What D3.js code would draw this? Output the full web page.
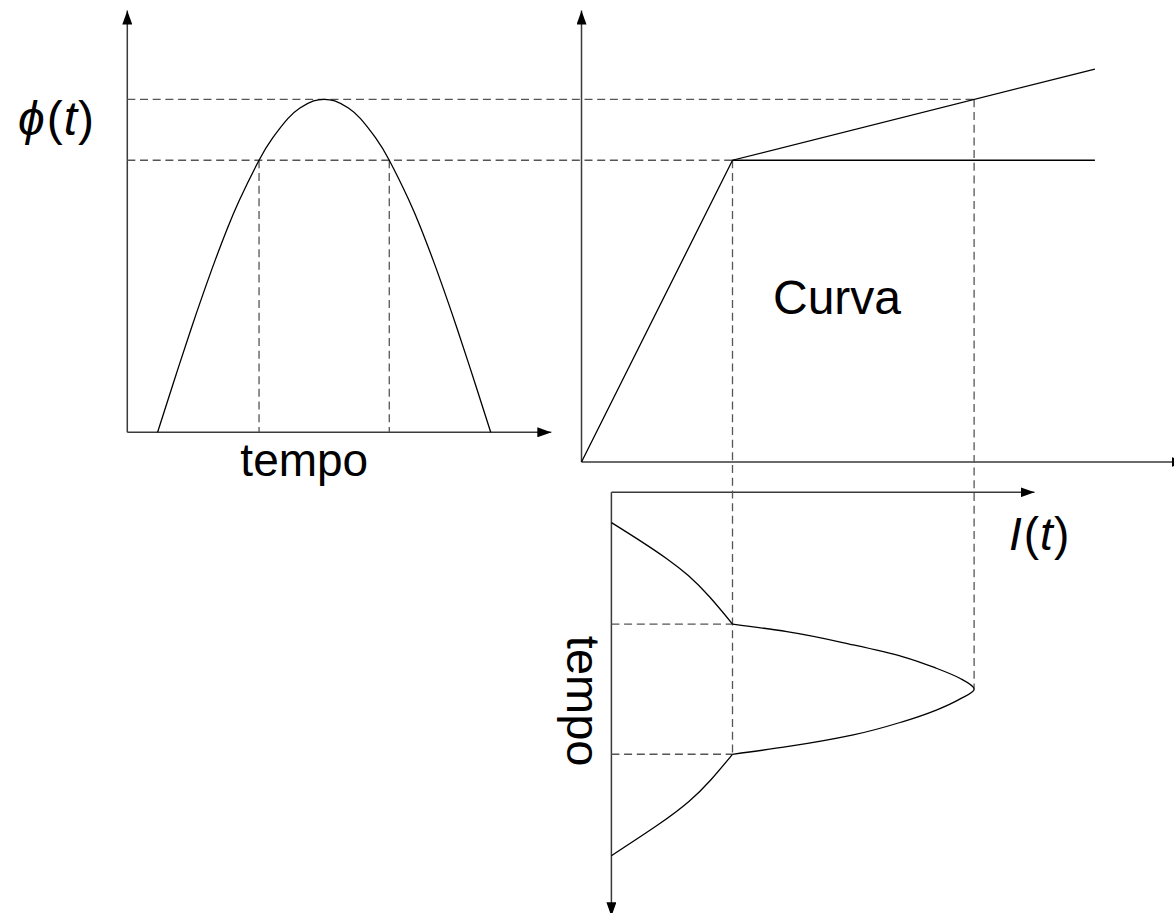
<!DOCTYPE html>
<html>
<head>
<meta charset="utf-8">
<script src="https://cdn.jsdelivr.net/npm/d3@7"></script>
<style>
  html, body { margin: 0; padding: 0; background: #fff; }
  svg { display: block; }
</style>
</head>
<body>
<svg id="chart" width="1174" height="913"></svg>
<script>
// Flux ϕ(t) over one half-cycle, read along the time axis
const fluxTime  = [1.0, 1.5, 2.1, 2.5, 2.9, 3.3, 3.7, 4.35, 4.8, 5.3, 5.7, 6.15, 6.5, 6.85, 7.3, 7.7, 8.2, 8.65, 9.3, 9.7, 10.1, 10.5, 10.9, 11.5, 12.0];
const fluxValue = [0, 0.174, 0.378, 0.508, 0.632, 0.748, 0.853, 1.0, 1.082, 1.153, 1.192, 1.218, 1.224, 1.218, 1.192, 1.153, 1.082, 1.0, 0.853, 0.748, 0.632, 0.508, 0.378, 0.174, 0];

// Magnetisation curve (current -> flux): linear up to the knee, shallow slope after it
const curveCurrent = [0, 1, 3.4];
const curveFlux    = [0, 1, 1.335];

// Flat continuation of the knee level
const levelCurrent = [1, 3.4];
const levelFlux    = [1, 1];

// Resulting magnetising current I(t)
const currentTime  = [1.0, 1.62, 2.2, 2.75, 3.45, 4.35, 4.6, 5.04, 5.43, 5.81, 6.14, 6.5, 6.83, 7.19, 7.57, 8.01, 8.4, 8.65, 9.5, 10.21, 10.98, 12.0];
const currentValue = [0, 0.245, 0.46, 0.635, 0.81, 1.0, 1.36, 1.8, 2.13, 2.35, 2.505, 2.6, 2.505, 2.35, 2.13, 1.8, 1.36, 1.0, 0.82, 0.64, 0.385, 0];

// Reference levels used by the projection lines
const kneeFlux = 1.0;
const peakFlux = 1.224;
const kneeCurrent = 1.0;
const peakCurrent = 2.6;
const kneeTimes = [4.35, 8.65];
const peakTime = 6.5;

// Axis extents
const timeMax = 14;
const fluxAxisMax = 1.55;
const currentAxisMax = 4.0;
const currentAxisMaxLower = 3.0;

// Text labels
const fluxLabel = ["ϕ", "(", "t", ")"];
const currentLabel = ["I", "(", "t", ")"];
const timeLabel = "tempo";
const curveLabel = "Curva";

const svg = d3.select("#chart");
const FONT = "'Liberation Sans', Arial, Helvetica, sans-serif";

// ---- scales ----
// flux vs time (upper left)
const xT = d3.scaleLinear().domain([0, timeMax]).range([127.3, 551.3]);
const yF = d3.scaleLinear().domain([0, peakFlux]).range([432.3, 99.3]);
// magnetisation curve (upper right)
const xI = d3.scaleLinear().domain([0, kneeCurrent]).range([581.5, 732.5]);
const yFR = d3.scaleLinear().domain([0, kneeFlux, peakFlux]).range([462, yF(kneeFlux), yF(peakFlux)]);
// current vs time (lower, time running downward)
const xIB = d3.scaleLinear().domain([0, kneeCurrent, peakCurrent]).range([611.4, xI(kneeCurrent), xI(peakCurrent)]);
const yTB = d3.scaleLinear().domain([0, timeMax]).range([492.3, 916.3]);

// ---- arrowhead ----
svg.append("defs").append("marker")
  .attr("id", "arrow")
  .attr("markerUnits", "userSpaceOnUse")
  .attr("viewBox", "-14 -5 14 10")
  .attr("markerWidth", 14)
  .attr("markerHeight", 10)
  .attr("refX", 0)
  .attr("refY", 0)
  .attr("orient", "auto")
  .append("path")
  .attr("d", "M0,0L-14,-5L-14,5Z")
  .attr("fill", "#000");

const axisG = svg.append("g")
  .attr("stroke", "#3a3a3a")
  .attr("stroke-width", 1.5)
  .attr("fill", "none");

function axisLine(x1, y1, x2, y2, arrow) {
  const l = axisG.append("line")
    .attr("x1", x1).attr("y1", y1)
    .attr("x2", x2).attr("y2", y2);
  if (arrow) l.attr("marker-end", "url(#arrow)");
}

// upper-left axes
axisLine(xT(0), yF(0), xT(timeMax), yF(0), true);
axisLine(xT(0), yF(0), xT(0), yF(fluxAxisMax), true);
// upper-right axes
axisLine(xI(0), yFR(0), xI(currentAxisMax), yFR(0), true);
axisLine(xI(0), yFR(0), xI(0), yFR(fluxAxisMax), true);
// lower axes
axisLine(xIB(0), yTB(0), xIB(currentAxisMaxLower), yTB(0), true);
axisLine(xIB(0), yTB(0), xIB(0), yTB(timeMax), true);

// ---- dashed projection lines ----
const dashG = svg.append("g")
  .attr("stroke", "#555")
  .attr("stroke-width", 1.3)
  .attr("stroke-dasharray", "8,4.7")
  .attr("fill", "none");

function dash(x1, y1, x2, y2) {
  dashG.append("line")
    .attr("x1", x1).attr("y1", y1)
    .attr("x2", x2).attr("y2", y2);
}

// horizontal levels from the flux axis across to the magnetisation curve
dash(xT(0), yF(peakFlux), xI(peakCurrent), yFR(peakFlux));
dash(xT(0), yF(kneeFlux), xI(kneeCurrent), yFR(kneeFlux));
// knee crossings down to the time axis
kneeTimes.forEach(t => dash(xT(t), yF(kneeFlux), xT(t), yF(0)));
// verticals from the magnetisation curve down into the current plot
dash(xI(kneeCurrent), yFR(kneeFlux), xIB(kneeCurrent), yTB(d3.max(kneeTimes)));
dash(xI(peakCurrent), yFR(peakFlux), xIB(peakCurrent), yTB(peakTime));
// knee instants in the current plot
kneeTimes.forEach(t => dash(xIB(0), yTB(t), xIB(kneeCurrent), yTB(t)));

// ---- curves ----
const curveG = svg.append("g")
  .attr("stroke", "#000")
  .attr("stroke-width", 1.3)
  .attr("fill", "none");

// flux
const fluxPts = fluxTime.map((t, i) => [t, fluxValue[i]]);
curveG.append("path")
  .attr("d", d3.line().x(d => xT(d[0])).y(d => yF(d[1])).curve(d3.curveNatural)(fluxPts));

// magnetisation curve
const magPts = curveCurrent.map((c, i) => [c, curveFlux[i]]);
curveG.append("path")
  .attr("d", d3.line().x(d => xI(d[0])).y(d => yFR(d[1]))(magPts));
const levelPts = levelCurrent.map((c, i) => [c, levelFlux[i]]);
curveG.append("path")
  .attr("d", d3.line().x(d => xI(d[0])).y(d => yFR(d[1]))(levelPts));

// current, split at the knee instants so the corners stay sharp
const curPts = currentTime.map((t, i) => [t, currentValue[i]]);
const breaks = [0];
curPts.forEach((p, i) => { if (i > 0 && i < curPts.length - 1 && kneeTimes.includes(p[0])) breaks.push(i); });
breaks.push(curPts.length - 1);
for (let k = 0; k < breaks.length - 1; k++) {
  const seg = curPts.slice(breaks[k], breaks[k + 1] + 1);
  // unsaturated pieces are smooth arcs; the saturated piece has a sharp-ish tip
  const isSaturated = d3.max(seg, d => d[1]) > kneeCurrent;
  const line = d3.line().x(d => xIB(d[1])).y(d => yTB(d[0]))
    .curve(isSaturated ? d3.curveMonotoneY : d3.curveNatural);
  curveG.append("path").attr("d", line(seg));
}

// ---- labels ----
function mathLabel(parts, x, y, size) {
  const t = svg.append("text")
    .attr("x", x).attr("y", y)
    .attr("font-family", FONT)
    .attr("font-size", size)
    .attr("fill", "#000");
  parts.forEach((s, i) => {
    t.append("tspan")
      .attr("font-style", (s === "(" || s === ")") ? "normal" : "italic")
      .attr("dx", i === 0 ? 0 : (s === "(" ? 2 : 1))
      .text(s);
  });
}
mathLabel(fluxLabel, 18, 135, 48);
mathLabel(currentLabel, 1009, 550, 46);

svg.append("text")
  .attr("x", (xT(0) + xT(timeMax)) / 2 - 35)
  .attr("y", 476)
  .attr("text-anchor", "middle")
  .attr("font-family", FONT)
  .attr("font-size", 46)
  .text(timeLabel);

svg.append("text")
  .attr("transform", `translate(567, ${yTB(peakTime) + 12}) rotate(90)`)
  .attr("text-anchor", "middle")
  .attr("font-family", FONT)
  .attr("font-size", 47)
  .text(timeLabel);

svg.append("text")
  .attr("x", 773)
  .attr("y", 314)
  .attr("font-family", FONT)
  .attr("font-size", 48)
  .text(curveLabel);
</script>
</body>
</html>
